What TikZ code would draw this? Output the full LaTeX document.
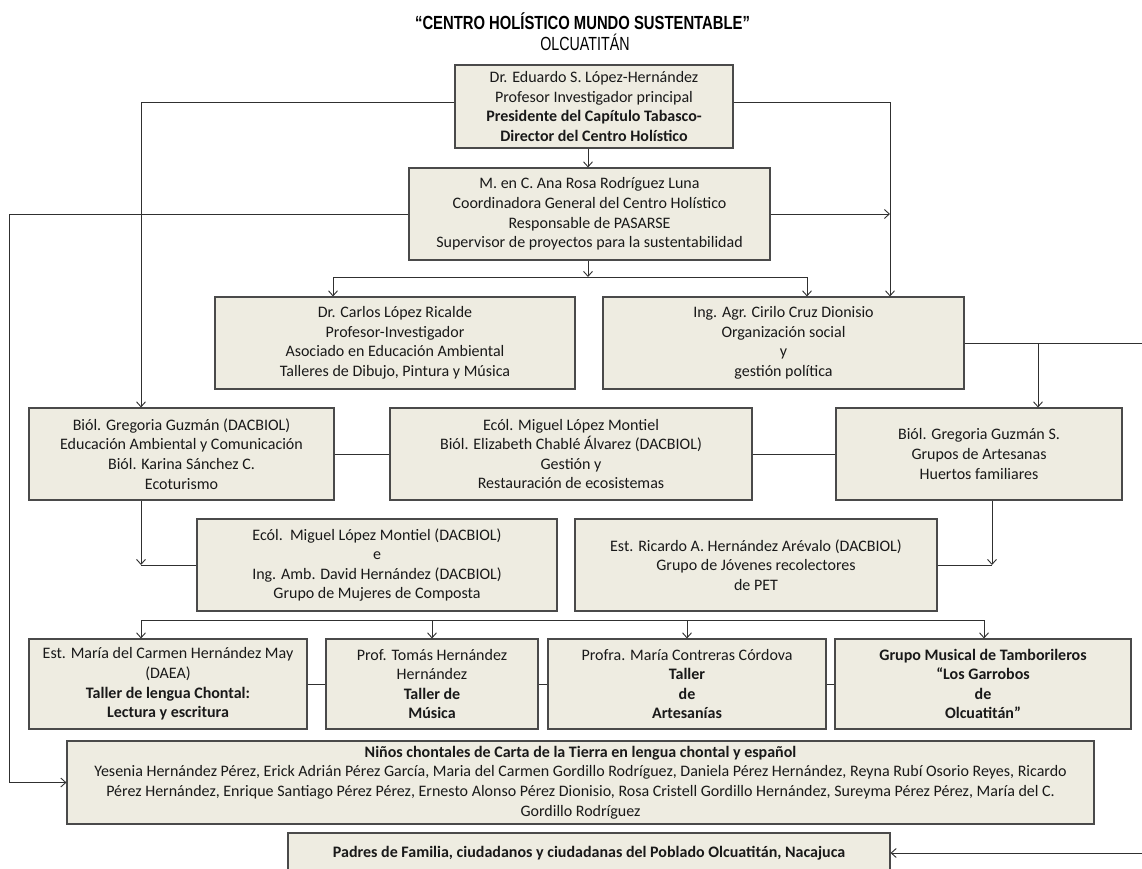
\documentclass[tikz,border=0pt]{standalone}
\usepackage{fontspec}
\setmainfont{Carlito}
\newfontfamily\titlefont{Liberation Sans}
\usetikzlibrary{arrows.meta}
\definecolor{boxfill}{HTML}{EEECE1}
\definecolor{boxline}{HTML}{4A4A4A}
\definecolor{lineclr}{HTML}{303030}
\begin{document}
\begin{tikzpicture}[x=1pt,y=-1pt,
  box/.style={draw=boxline, fill=boxfill, line width=1.1pt, inner sep=0pt, align=center,
    font=\fontsize{16}{19.6}\selectfont, text=black!90},
  conn/.style={draw=lineclr, line width=0.9pt},
  arr/.style={conn, -{Straight Barb[length=5pt,width=9pt]}}]
\fill[white] (0,0) rectangle (1142,869);
\useasboundingbox (0,0) rectangle (1142,869);

% title
\node (t1) at (582.5,21) {\titlefont\fontsize{19}{22}\selectfont\bfseries\scalebox{0.78}[1]{“CENTRO HOLÍSTICO MUNDO SUSTENTABLE”}};
\node (t2) at (585,42) {\titlefont\fontsize{19}{22}\selectfont\scalebox{0.75}[1]{OLCUATITÁN}};

% boxes
\node[box, minimum width=278pt, minimum height=83pt] (b1) at (594,106.5)
  {Dr. Eduardo S. López-Hernández\\ Profesor Investigador principal\\ \textbf{Presidente del Capítulo Tabasco-}\\ \textbf{Director del Centro Holístico}};
\node[box, minimum width=361pt, minimum height=92pt] (b2) at (589.5,214)
  {M. en C. Ana Rosa Rodríguez Luna\\ Coordinadora General del Centro Holístico\\ Responsable de PASARSE\\ Supervisor de proyectos para la sustentabilidad};
\node[box, minimum width=360pt, minimum height=92pt] (carlos) at (395,343)
  {Dr. Carlos López Ricalde\\ Profesor-Investigador\\ Asociado en Educación Ambiental\\ Talleres de Dibujo, Pintura y Música};
\node[box, minimum width=361pt, minimum height=92pt] (cir) at (783.5,343)
  {Ing. Agr. Cirilo Cruz Dionisio\\ Organización social\\ y\\ gestión política};
\node[box, minimum width=305pt, minimum height=92pt] (greg) at (181.5,454)
  {Biól. Gregoria Guzmán (DACBIOL)\\ Educación Ambiental y Comunicación\\ Biól. Karina Sánchez C.\\ Ecoturismo};
\node[box, minimum width=362pt, minimum height=92pt] (mid) at (571,454)
  {Ecól. Miguel López Montiel\\ Biól. Elizabeth Chablé Álvarez (DACBIOL)\\ Gestión y\\ Restauración de ecosistemas};
\node[box, minimum width=286pt, minimum height=92pt] (gregs) at (979,454)
  {Biól. Gregoria Guzmán S.\\ Grupos de Artesanas\\ Huertos familiares};
\node[box, minimum width=360pt, minimum height=92pt] (migd) at (377,565)
  {Ecól.\ \ Miguel López Montiel (DACBIOL)\\ e\\ Ing. Amb. David Hernández (DACBIOL)\\ Grupo de Mujeres de Composta};
\node[box, minimum width=362pt, minimum height=92pt] (ric) at (756,565)
  {Est. Ricardo A. Hernández Arévalo (DACBIOL)\\ Grupo de Jóvenes recolectores\\ de PET};
\node[box, minimum width=278pt, minimum height=90pt] (tA) at (168,684)
  {Est. María del Carmen Hernández May\\ (DAEA)\\ \textbf{Taller de lengua Chontal:}\\ \textbf{Lectura y escritura}};
\node[box, minimum width=212pt, minimum height=90pt] (tB) at (432,684)
  {Prof. Tomás Hernández\\ Hernández\\ \textbf{Taller de}\\ \textbf{Música}};
\node[box, minimum width=278pt, minimum height=90pt] (tC) at (687,684)
  {Profra. María Contreras Córdova\\ \textbf{Taller}\\ \textbf{de}\\ \textbf{Artesanías}};
\node[box, minimum width=296pt, minimum height=90pt] (tD) at (983,684)
  {\textbf{Grupo Musical de Tamborileros}\\ \textbf{“Los Garrobos}\\ \textbf{de}\\ \textbf{Olcuatitán”}};
\node[box, minimum width=1027pt, minimum height=83pt] (ninos) at (580.5,782.5)
  {\textbf{Niños chontales de Carta de la Tierra en lengua chontal y español}\\
   Yesenia Hernández Pérez, Erick Adrián Pérez García, Maria del Carmen Gordillo Rodríguez, Daniela Pérez Hernández, Reyna Rubí Osorio Reyes, Ricardo\\
   Pérez Hernández, Enrique Santiago Pérez Pérez, Ernesto Alonso Pérez Dionisio, Rosa Cristell Gordillo Hernández, Sureyma Pérez Pérez, María del C.\\
   Gordillo Rodríguez};
\node[box, minimum width=602pt, minimum height=40pt] (padres) at (589,853)
  {\textbf{Padres de Familia, ciudadanos y ciudadanas del Poblado Olcuatitán, Nacajuca}};

% helper coordinates
\coordinate (xR) at (890,214);
\coordinate (split2) at (588,277);
\coordinate (eR1) at (1142,343);
\coordinate (jR1) at (1038,343);
\coordinate (jL5) at (141,565);
\coordinate (jR5) at (992,565);
\coordinate (r6a) at (141,620);
\coordinate (r6d) at (984,620);
\coordinate (eR2) at (1142,853);

% connectors
\draw[arr] ([yshift=4.5pt]b1.west) -| ([xshift=-40.5pt]greg.north);
\draw[arr] ([yshift=4.5pt]b1.east) -| ([xshift=106.5pt]cir.north);
\draw[arr] ([xshift=-6pt]b1.south) -- ([xshift=-1.5pt]b2.north);
\draw[arr] (b2.west) -| ([xshift=-57pt]ninos.west) -- (ninos.west);
\draw[arr] (b2.east) -- (xR);
\draw[arr] ([xshift=-1.5pt]b2.south) -- (split2);
\draw[arr] (split2) -| ([xshift=-62pt]carlos.north);
\draw[arr] (split2) -| ([xshift=23.5pt]cir.north);
\draw[conn] (cir.east) -- (eR1);
\draw[arr] (jR1) -- ([xshift=59pt]gregs.north);
\draw[conn] (greg.east) -- (mid.west);
\draw[conn] (mid.east) -- (gregs.west);
\draw[arr] ([xshift=-40.5pt]greg.south) -- (jL5);
\draw[conn] (migd.west) -- (jL5);
\draw[arr] ([xshift=13pt]gregs.south) -- (jR5);
\draw[conn] (ric.east) -- (jR5);
\draw[conn] (r6a) -- (r6d);
\draw[arr] (r6a) -- ([xshift=-27pt]tA.north);
\draw[arr] (tB.north |- r6a) -- (tB.north);
\draw[arr] (tC.north |- r6a) -- (tC.north);
\draw[arr] (r6d) -- ([xshift=1pt]tD.north);
\draw[conn] (tA.east) -- (tB.west);
\draw[conn] (tB.east) -- (tC.west);
\draw[conn] (tC.east) -- (tD.west);
\draw[arr] (eR2) -- (padres.east);
\end{tikzpicture}
\end{document}
